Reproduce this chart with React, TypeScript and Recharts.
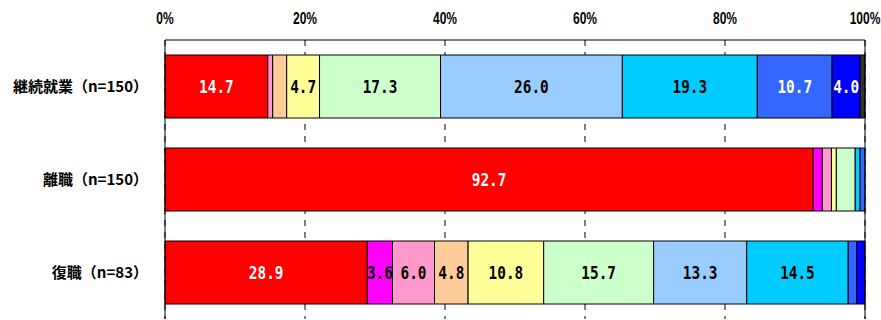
import { BarChart, Bar, XAxis, YAxis, CartesianGrid, LabelList, ReferenceLine } from 'recharts';

const categories = ['継続就業（n=150）', '離職（n=150）', '復職（n=83）'];

// one array per stacked segment, values in % for each category above
const seg1 = [14.7, 92.7, 28.9];
const seg2 = [0, 1.3, 3.6];
const seg3 = [0.7, 1.3, 6.0];
const seg4 = [2.0, 0, 4.8];
const seg5 = [4.7, 0.7, 10.8];
const seg6 = [17.3, 2.7, 15.7];
const seg7 = [26.0, 0, 13.3];
const seg8 = [19.3, 0.7, 14.5];
const seg9 = [10.7, 0.7, 1.2];
const seg10 = [4.0, 0, 1.2];
const seg11 = [0.7, 0, 0];

const segments = [seg1, seg2, seg3, seg4, seg5, seg6, seg7, seg8, seg9, seg10, seg11];

const xTicks = [0, 0.2, 0.4, 0.6, 0.8, 1];

const COLORS = [
  '#FF0000', '#FF00FF', '#FF99CC', '#FFCC99', '#FFFF99', '#CCFFCC',
  '#99CCFF', '#00CCFF', '#3366FF', '#0000FF', '#333333',
];
const WHITE_TEXT = [0, 8, 9];

const data = categories.map((name, i) => {
  const row: Record<string, string | number> = { name };
  segments.forEach((s, k) => {
    row[`s${k}`] = s[i];
  });
  return row;
});

function SegLabel(props: any, k: number) {
  const { x, y, width, height, value } = props;
  if (value == null || value < 3.5) return null;
  return (
    <g transform={`translate(${x + width / 2},${y + height / 2}) scale(0.9,1.1)`}>
      <text
        x={0}
        y={0}
        textAnchor="middle"
        dominantBaseline="central"
        fill={WHITE_TEXT.includes(k) ? '#fff' : '#000'}
        fontFamily="'DejaVu Sans Mono', monospace"
        fontWeight="bold"
        fontSize={16}
      >
        {Number(value).toFixed(1)}
      </text>
    </g>
  );
}

// narrow percent labels above the top axis
function PctTick(props: any) {
  const { x, y, payload } = props;
  return (
    <g transform={`translate(${x},${y}) scale(0.75,1)`}>
      <text
        x={0}
        y={0}
        textAnchor="middle"
        fill="#000"
        fontFamily="'Liberation Sans', Arial, sans-serif"
        fontWeight="bold"
        fontSize={16}
      >
        {`${Math.round(payload.value * 100)}%`}
      </text>
    </g>
  );
}

export default function App() {
  return (
    <div style={{ position: 'absolute', left: 0, top: 0 }}>
      <BarChart
        width={881}
        height={320}
        data={data}
        layout="vertical"
        stackOffset="expand"
        barCategoryGap={15}
        margin={{ top: 0, right: 16, bottom: 1, left: 0 }}
      >
        <CartesianGrid horizontal={false} stroke="#000" strokeDasharray="6 6" />
        <XAxis
          type="number"
          orientation="top"
          domain={[0, 1]}
          ticks={xTicks}
          height={40}
          tickLine={false}
          tickSize={0}
          tickMargin={16}
          axisLine={{ stroke: '#000' }}
          tick={(p: any) => <PctTick {...p} />}
          interval={0}
        />
        <YAxis
          yAxisId="cat"
          type="category"
          dataKey="name"
          width={165}
          tickLine={false}
          tickSize={0}
          tickMargin={17}
          axisLine={{ stroke: '#000' }}
          tick={{ fill: '#000', fontSize: 15, fontWeight: 'bold', fontFamily: "'Noto Sans CJK JP', sans-serif" }}
        />
        {/* boundary ticks between the category bands */}
        <YAxis
          yAxisId="band"
          type="number"
          domain={[0, 3]}
          ticks={[1, 2]}
          reversed
          width={0}
          mirror
          tick={false}
          axisLine={false}
          tickSize={5}
          tickLine={{ stroke: '#000' }}
        />
        <ReferenceLine yAxisId="cat" x={1} stroke="#000" />
        {segments.map((_, k) => (
          <Bar
            key={k}
            yAxisId="cat"
            dataKey={`s${k}`}
            stackId="a"
            fill={COLORS[k]}
            stroke="#000"
            strokeWidth={1}
            isAnimationActive={false}
          >
            <LabelList dataKey={`s${k}`} content={(p: any) => SegLabel(p, k)} />
          </Bar>
        ))}
      </BarChart>
    </div>
  );
}
